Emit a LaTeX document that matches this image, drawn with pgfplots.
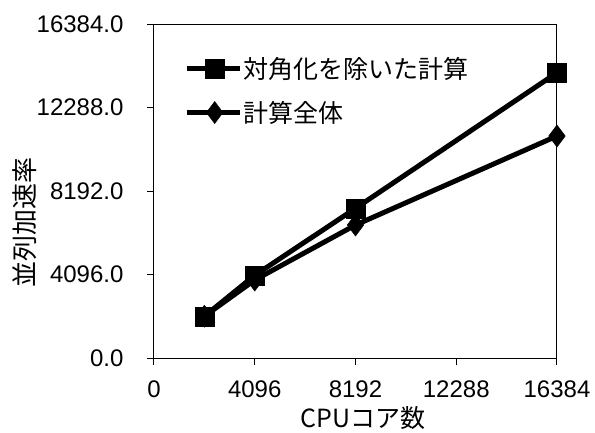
\documentclass[border=0pt]{standalone}
\usepackage{pgfplots}
\pgfplotsset{compat=1.18}
\usepackage{fontspec}
\setmainfont{Liberation Sans}
\newfontfamily\cjk{Noto Sans CJK JP}
\begin{document}
\begin{tikzpicture}
\useasboundingbox (-154pt,-74pt) rectangle (441pt,358pt);
\begin{axis}[
  at={(0,0)}, anchor=south west,
  scale only axis, width=403pt, height=334pt,
  xmin=0, xmax=16384, ymin=0, ymax=16384,
  xtick={0,4096,8192,12288,16384},
  ytick={0,4096,8192,12288,16384},
  xtick pos=bottom, ytick pos=left, tick align=outside,
  major tick length=7pt,
  tick style={line width=1pt, black},
  axis line style={line width=1pt},
  /pgf/number format/assume math mode=true,
  /pgf/number format/1000 sep={},
  yticklabel={\pgfmathprintnumber[fixed,fixed zerofill,precision=1,1000 sep={}]{\tick}},
  xticklabel={\pgfmathprintnumber[fixed,precision=0,1000 sep={}]{\tick}},
  ticklabel style={font=\fontsize{24}{24}\selectfont},
  yticklabel style={xshift=-20pt},
  xticklabel style={yshift=-12pt},
  scaled ticks=false,
  xlabel={\cjk CPUコア数},
  ylabel={\cjk 並列加速率},
  xlabel style={at={(axis description cs:0.519,-0.18)}, anchor=center, font=\fontsize{25}{25}\selectfont},
  ylabel style={at={(axis description cs:-0.32,0.407)}, anchor=center, font=\fontsize{26}{26}\selectfont},
  legend style={at={(axis description cs:0.067,0.909)}, anchor=north west, draw=none, fill=none,
    font=\cjk\fontsize{25}{25}\selectfont, row sep=19pt,
    nodes={inner sep=1pt}},
  legend cell align=left,
  legend image code/.code={\draw[mark repeat=2,mark phase=2,#1] plot coordinates {(0pt,0pt) (28pt,0pt) (53pt,0pt)};},
]
\addplot[black, line width=5pt, mark=square*, mark size=9.5pt, mark options={line width=0.5pt}] coordinates {
(2048,2048) (4096,4056) (8192,7342) (16384,13996)};
\addlegendentry{対角化を除いた計算}
\addplot[black, line width=5pt, mark=diamond*, mark size=11pt, mark options={line width=0.5pt}] coordinates {
(2048,2048) (4096,3826) (8192,6524) (16384,10890)};
\addlegendentry{計算全体}
\end{axis}
\end{tikzpicture}
\end{document}
